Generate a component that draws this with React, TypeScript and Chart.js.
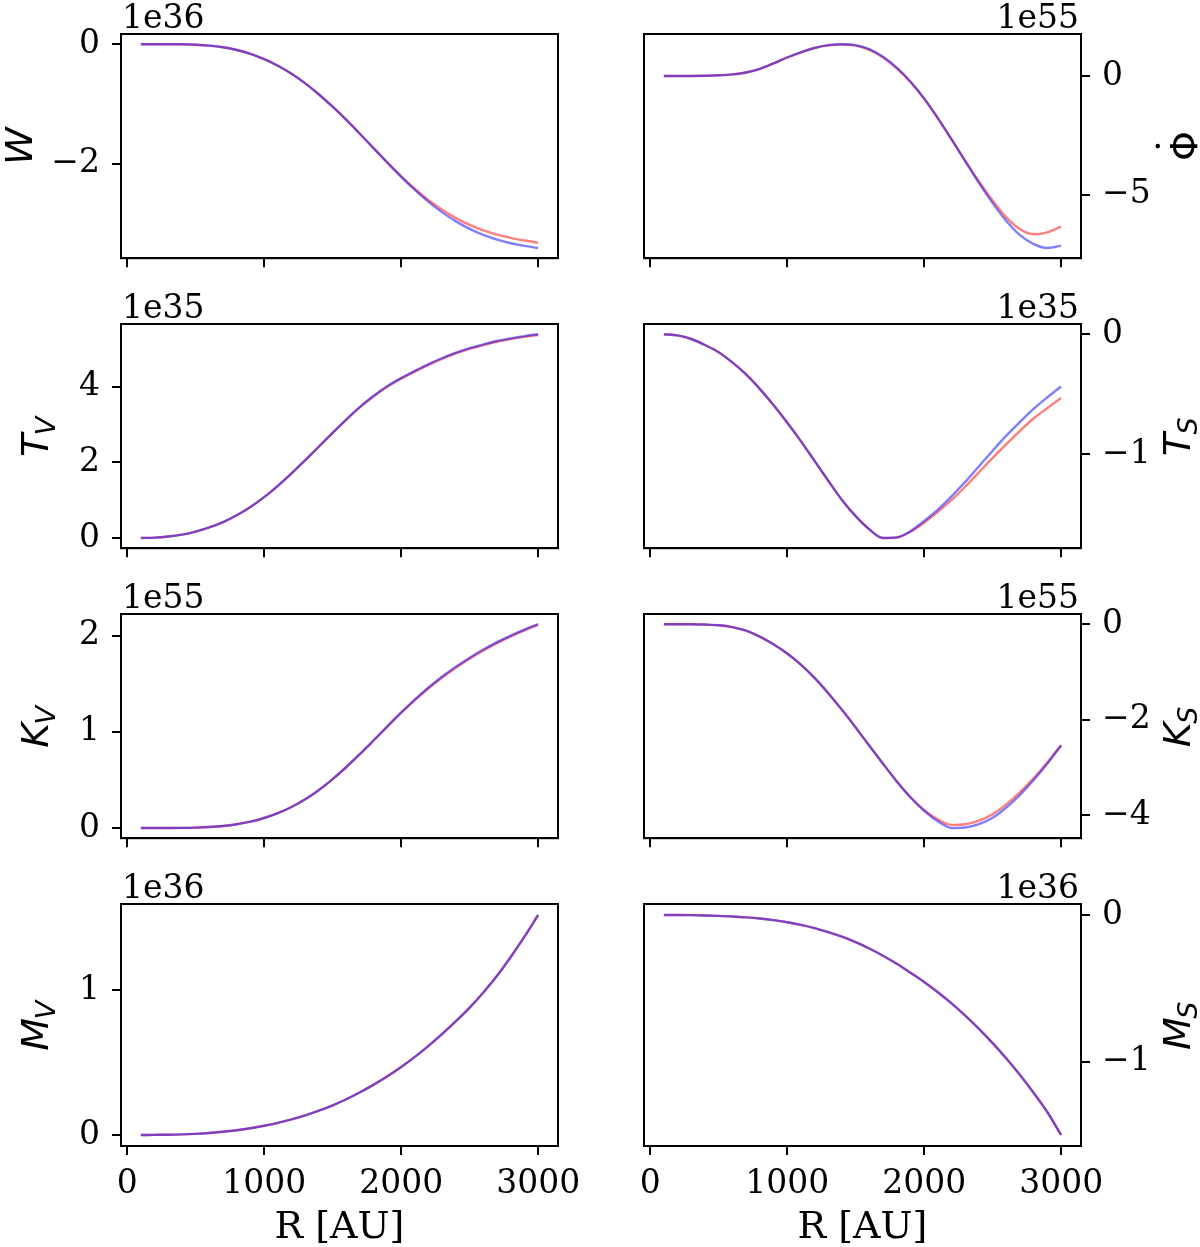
import React, { useEffect, useRef } from "react";
import { Chart, registerables } from "chart.js";

Chart.register(...registerables);

// Radius grid [AU]
const R_AU = [
  100, 200, 300, 400, 500, 600, 700, 800, 900, 1000,
  1100, 1200, 1300, 1400, 1500, 1600, 1700, 1800, 1900, 2000,
  2100, 2200, 2300, 2400, 2500, 2600, 2700, 2800, 2900, 3000,
];
const X_TICKS = [0, 1000, 2000, 3000];

// W  (x 1e36)
const W_1 = [0, 0, 0, -0.002, -0.009, -0.024, -0.052, -0.097, -0.162, -0.25, -0.36, -0.495, -0.655, -0.84, -1.045, -1.265, -1.5, -1.74, -1.98, -2.205, -2.415, -2.605, -2.765, -2.905, -3.02, -3.11, -3.18, -3.235, -3.28, -3.315];
const W_2 = [0, 0, 0, -0.002, -0.009, -0.024, -0.052, -0.097, -0.162, -0.25, -0.36, -0.495, -0.655, -0.84, -1.045, -1.265, -1.5, -1.74, -1.98, -2.215, -2.435, -2.635, -2.81, -2.96, -3.085, -3.185, -3.265, -3.325, -3.37, -3.405];

// dPhi/dt  (x 1e55)
const PHI_1 = [0, 0, 0.003, 0.012, 0.03, 0.07, 0.15, 0.3, 0.53, 0.78, 1.0, 1.18, 1.29, 1.33, 1.28, 1.1, 0.78, 0.32, -0.26, -0.96, -1.78, -2.66, -3.56, -4.44, -5.24, -5.95, -6.45, -6.66, -6.58, -6.34];
const PHI_2 = [0, 0, 0.003, 0.012, 0.03, 0.07, 0.15, 0.3, 0.53, 0.78, 1.0, 1.18, 1.3, 1.34, 1.3, 1.13, 0.81, 0.35, -0.23, -0.94, -1.77, -2.67, -3.59, -4.5, -5.35, -6.1, -6.7, -7.08, -7.24, -7.14];

// T_V  (x 1e35)
const TV_1 = [0, 0.01, 0.04, 0.09, 0.17, 0.28, 0.42, 0.6, 0.82, 1.08, 1.38, 1.71, 2.06, 2.42, 2.78, 3.13, 3.46, 3.75, 4.0, 4.21, 4.4, 4.58, 4.74, 4.88, 5.0, 5.1, 5.19, 5.26, 5.32, 5.37];
const TV_2 = [0, 0.01, 0.04, 0.09, 0.17, 0.28, 0.42, 0.6, 0.82, 1.08, 1.38, 1.71, 2.06, 2.42, 2.78, 3.14, 3.47, 3.76, 4.02, 4.23, 4.42, 4.6, 4.76, 4.9, 5.02, 5.12, 5.21, 5.28, 5.34, 5.39];

// T_S  (x 1e35)
const TS_1 = [0, -0.01, -0.04, -0.09, -0.15, -0.235, -0.335, -0.455, -0.59, -0.735, -0.89, -1.055, -1.22, -1.38, -1.515, -1.625, -1.697, -1.693, -1.645, -1.57, -1.48, -1.38, -1.27, -1.15, -1.03, -0.915, -0.805, -0.7, -0.615, -0.53];
const TS_2 = [0, -0.01, -0.04, -0.09, -0.15, -0.235, -0.335, -0.455, -0.59, -0.735, -0.89, -1.055, -1.22, -1.38, -1.515, -1.625, -1.697, -1.692, -1.64, -1.555, -1.46, -1.35, -1.23, -1.1, -0.97, -0.845, -0.73, -0.62, -0.525, -0.435];

// K_V  (x 1e55)
const KV_1 = [0, 0, 0, 0.001, 0.004, 0.01, 0.021, 0.039, 0.066, 0.104, 0.154, 0.218, 0.298, 0.395, 0.508, 0.634, 0.77, 0.912, 1.056, 1.198, 1.33, 1.452, 1.564, 1.666, 1.759, 1.844, 1.921, 1.991, 2.054, 2.111];
const KV_2 = [0, 0, 0, 0.001, 0.004, 0.01, 0.021, 0.039, 0.066, 0.104, 0.154, 0.218, 0.298, 0.395, 0.508, 0.634, 0.77, 0.912, 1.056, 1.198, 1.333, 1.46, 1.575, 1.677, 1.77, 1.855, 1.931, 2.0, 2.062, 2.118];

// K_S  (x 1e55)
const KS_1 = [0, 0, -0.002, -0.008, -0.022, -0.06, -0.135, -0.26, -0.42, -0.615, -0.845, -1.125, -1.445, -1.795, -2.165, -2.545, -2.925, -3.29, -3.62, -3.89, -4.09, -4.205, -4.19, -4.115, -3.98, -3.775, -3.52, -3.225, -2.895, -2.53];
const KS_2 = [0, 0, -0.002, -0.008, -0.022, -0.06, -0.135, -0.26, -0.42, -0.615, -0.845, -1.125, -1.445, -1.795, -2.165, -2.545, -2.925, -3.295, -3.63, -3.91, -4.13, -4.27, -4.26, -4.19, -4.055, -3.84, -3.575, -3.265, -2.92, -2.54];

// M_V  (x 1e36)
const MV_1 = [0, 0.001, 0.002, 0.004, 0.008, 0.014, 0.022, 0.033, 0.047, 0.064, 0.084, 0.108, 0.136, 0.168, 0.205, 0.247, 0.295, 0.348, 0.406, 0.47, 0.54, 0.616, 0.698, 0.786, 0.88, 0.985, 1.1, 1.23, 1.37, 1.52];
const MV_2 = [0, 0.001, 0.002, 0.004, 0.008, 0.014, 0.022, 0.033, 0.047, 0.064, 0.084, 0.108, 0.136, 0.168, 0.205, 0.247, 0.295, 0.348, 0.406, 0.47, 0.54, 0.616, 0.698, 0.786, 0.88, 0.985, 1.1, 1.23, 1.37, 1.52];

// M_S  (x 1e36)
const MS_1 = [0, 0, -0.001, -0.003, -0.006, -0.01, -0.016, -0.024, -0.035, -0.049, -0.067, -0.089, -0.116, -0.148, -0.185, -0.228, -0.277, -0.332, -0.393, -0.456, -0.526, -0.602, -0.685, -0.775, -0.872, -0.977, -1.09, -1.212, -1.343, -1.498];
const MS_2 = [0, 0, -0.001, -0.003, -0.006, -0.01, -0.016, -0.024, -0.035, -0.049, -0.067, -0.089, -0.116, -0.148, -0.185, -0.228, -0.277, -0.332, -0.393, -0.456, -0.526, -0.602, -0.685, -0.775, -0.872, -0.977, -1.09, -1.212, -1.343, -1.498];

type YLabel = { main: string; sub?: string; dot?: boolean };

type PanelSpec = {
  row: number;
  col: number;
  a: number[];
  b: number[];
  yTicks: number[];
  offset: string;
  label: YLabel;
  labelX: number; // centre of the label glyphs, in page px
};

const PANELS: PanelSpec[] = [
  { row: 0, col: 0, a: W_1, b: W_2, yTicks: [0, -2], offset: "1e36", label: { main: "W" }, labelX: 18 },
  { row: 0, col: 1, a: PHI_1, b: PHI_2, yTicks: [0, -5], offset: "1e55", label: { main: "\u03A6", dot: true }, labelX: 1183 },
  { row: 1, col: 0, a: TV_1, b: TV_2, yTicks: [0, 2, 4], offset: "1e35", label: { main: "T", sub: "V" }, labelX: 34 },
  { row: 1, col: 1, a: TS_1, b: TS_2, yTicks: [0, -1], offset: "1e35", label: { main: "T", sub: "S" }, labelX: 1176 },
  { row: 2, col: 0, a: KV_1, b: KV_2, yTicks: [0, 1, 2], offset: "1e55", label: { main: "K", sub: "V" }, labelX: 34 },
  { row: 2, col: 1, a: KS_1, b: KS_2, yTicks: [0, -2, -4], offset: "1e55", label: { main: "K", sub: "S" }, labelX: 1176 },
  { row: 3, col: 0, a: MV_1, b: MV_2, yTicks: [0, 1], offset: "1e36", label: { main: "M", sub: "V" }, labelX: 34 },
  { row: 3, col: 1, a: MS_1, b: MS_2, yTicks: [0, -1], offset: "1e36", label: { main: "M", sub: "S" }, labelX: 1176 },
];

// Figure geometry (page px)
const ROW_PITCH = 290;
const PLOT_TOP = 34;
const PLOT_H = 242;
const PLOT_W = 437;
const LEFT_PLOT_X = 121;
const RIGHT_PLOT_X = 644;
const FIG_H = 1247;

const SERIF = '"DejaVu Serif", serif';
const SANS = '"DejaVu Sans", sans-serif';
const TICK_SIZE = 33;
const LABEL_SIZE = 38;

const COLOR_A = "rgba(255, 0, 0, 0.5)";
const COLOR_B = "rgba(0, 0, 255, 0.5)";

const fmtTick = (v: number) => String(v).replace("-", "\u2212");

function drawYLabel(ctx: CanvasRenderingContext2D, cx: number, cy: number, lab: YLabel) {
  const size = LABEL_SIZE;
  const cap = 0.729 * size;
  ctx.save();
  ctx.translate(cx, cy);
  ctx.rotate(-Math.PI / 2);
  ctx.fillStyle = "#000";
  ctx.textAlign = "left";
  ctx.textBaseline = "alphabetic";
  if (lab.dot) {
    ctx.font = `${size}px ${SANS}`;
    const w = ctx.measureText(lab.main).width;
    ctx.fillText(lab.main, -w / 2, cap / 2);
    ctx.beginPath();
    ctx.arc(0, -cap / 2 - 0.3 * size, 0.06 * size, 0, Math.PI * 2);
    ctx.fill();
  } else {
    const mainFont = `italic ${size}px ${SANS}`;
    const subFont = `italic ${Math.round(size * 0.7)}px ${SANS}`;
    ctx.font = mainFont;
    const w1 = ctx.measureText(lab.main).width;
    ctx.font = subFont;
    const w2 = lab.sub ? ctx.measureText(lab.sub).width : 0;
    const x0 = -(w1 + w2) / 2;
    ctx.font = mainFont;
    ctx.fillText(lab.main, x0, cap / 2);
    if (lab.sub) {
      ctx.font = subFont;
      ctx.fillText(lab.sub, x0 + w1 - 0.04 * size, cap / 2 + 0.2 * size);
    }
  }
  ctx.restore();
}

function Panel({ spec }: { spec: PanelSpec }) {
  const ref = useRef<HTMLCanvasElement>(null);
  const isBottom = spec.row === 3;
  const isLeft = spec.col === 0;
  const canvasLeft = isLeft ? 0 : 600;
  const canvasTop = spec.row * ROW_PITCH;
  const canvasW = 600;
  const canvasH = isBottom ? FIG_H - canvasTop : ROW_PITCH;

  useEffect(() => {
    const canvas = ref.current;
    if (!canvas) return;

    const all = spec.a.concat(spec.b);
    const lo = Math.min(...all);
    const hi = Math.max(...all);
    const pad = (hi - lo) * 0.05;

    const plotLeft = (isLeft ? LEFT_PLOT_X : RIGHT_PLOT_X) - canvasLeft;
    const yAxisW = isLeft ? plotLeft : canvasW - plotLeft - PLOT_W;
    const xAxisH = canvasH - PLOT_TOP - PLOT_H;

    const tickFont = { family: SERIF, size: TICK_SIZE };
    const gridOpts = {
      display: true,
      drawOnChartArea: false,
      drawTicks: true,
      tickLength: 9,
      tickWidth: 2,
      tickColor: "#000",
      color: "#000",
      lineWidth: 2,
    };

    const framePlugin = {
      id: "frameAndText",
      afterDraw(chart: any) {
        const { ctx, chartArea } = chart;
        ctx.save();
        ctx.strokeStyle = "#000";
        ctx.lineWidth = 2;
        ctx.strokeRect(chartArea.left, chartArea.top, chartArea.right - chartArea.left, chartArea.bottom - chartArea.top);

        // exponent text above the frame
        ctx.fillStyle = "#000";
        ctx.font = `${TICK_SIZE}px ${SERIF}`;
        ctx.textBaseline = "alphabetic";
        if (isLeft) {
          ctx.textAlign = "left";
          ctx.fillText(spec.offset, chartArea.left + 1, chartArea.top - 6);
        } else {
          ctx.textAlign = "right";
          ctx.fillText(spec.offset, chartArea.right - 2, chartArea.top - 6);
        }
        ctx.restore();

        drawYLabel(ctx, spec.labelX - canvasLeft, (chartArea.top + chartArea.bottom) / 2, spec.label);
      },
    };

    const line = (vals: number[], color: string) => ({
      data: R_AU.map((x, i) => ({ x, y: vals[i] })),
      borderColor: color,
      borderWidth: 2.4,
      pointRadius: 0,
      fill: false,
      cubicInterpolationMode: "monotone" as const,
    });

    // the first dataset is painted last, so the blue curve sits on top
    const chart = new Chart(canvas, {
      type: "line",
      data: { datasets: [line(spec.b, COLOR_B), line(spec.a, COLOR_A)] },
      options: {
        animation: false,
        responsive: false,
        maintainAspectRatio: false,
        devicePixelRatio: 1,
        events: [],
        layout: {
          padding: {
            top: PLOT_TOP,
            bottom: 0,
            left: isLeft ? 0 : plotLeft,
            right: isLeft ? canvasW - plotLeft - PLOT_W : 0,
          },
        },
        plugins: { legend: { display: false }, tooltip: { enabled: false }, title: { display: false } },
        scales: {
          x: {
            type: "linear",
            position: "bottom",
            min: -45,
            max: 3145,
            afterBuildTicks: (s: any) => {
              s.ticks = X_TICKS.map((v) => ({ value: v }));
            },
            afterFit: (s: any) => {
              s.height = xAxisH;
            },
            ticks: {
              display: isBottom,
              font: tickFont,
              color: "#000",
              padding: 10,
              maxRotation: 0,
              autoSkip: false,
              callback: (v: any) => fmtTick(Number(v)),
            },
            grid: gridOpts,
            border: { display: true, color: "#000", width: 2 },
            title: {
              display: isBottom,
              text: "R [AU]",
              color: "#000",
              font: { family: SERIF, size: LABEL_SIZE, lineHeight: 1 },
              padding: { top: 0, bottom: 0 },
            },
          },
          y: {
            type: "linear",
            position: isLeft ? "left" : "right",
            min: lo - pad,
            max: hi + pad,
            afterBuildTicks: (s: any) => {
              s.ticks = spec.yTicks.map((v) => ({ value: v }));
            },
            afterFit: (s: any) => {
              s.width = yAxisW;
            },
            ticks: {
              font: tickFont,
              color: "#000",
              padding: 12,
              autoSkip: false,
              callback: (v: any) => fmtTick(Number(v)),
            },
            grid: gridOpts,
            border: { display: true, color: "#000", width: 2 },
          },
        },
      } as any,
      plugins: [framePlugin],
    });

    return () => chart.destroy();
  }, [spec]);

  return (
    <canvas
      ref={ref}
      width={canvasW}
      height={canvasH}
      style={{ position: "absolute", left: canvasLeft, top: canvasTop, width: canvasW, height: canvasH }}
    />
  );
}

export default function App() {
  return (
    <div style={{ position: "absolute", left: 0, top: 0, width: 1200, height: FIG_H, background: "#fff", overflow: "hidden" }}>
      {PANELS.map((p) => (
        <Panel key={`${p.row}-${p.col}`} spec={p} />
      ))}
    </div>
  );
}
